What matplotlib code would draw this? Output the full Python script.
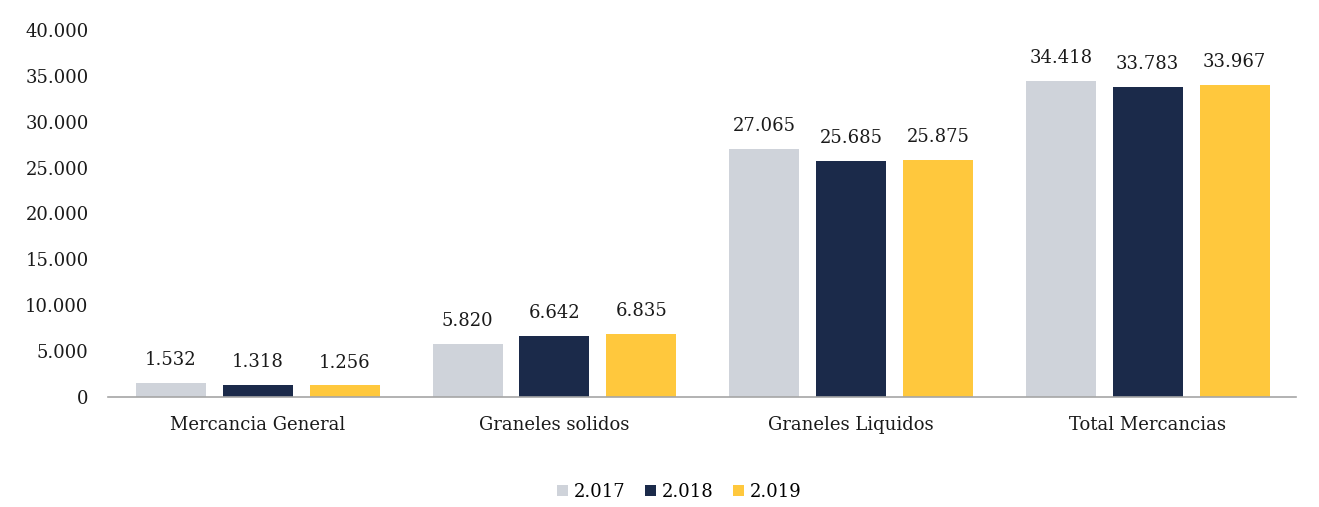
import matplotlib
matplotlib.use("Agg")
import matplotlib.pyplot as plt
import matplotlib.ticker as ticker
import numpy as np

# ── Data ───────────────────────────────────────────────────────
categories = ["Mercancia General", "Graneles solidos", "Graneles Liquidos", "Total Mercancias"]
years = ["2.017", "2.018", "2.019"]
v2017 = [1532, 5820, 27065, 34418]
v2018 = [1318, 6642, 25685, 33783]
v2019 = [1256, 6835, 25875, 33967]
colors = ["#CFD3DA", "#1B2A4A", "#FFC83D"]

plt.rcParams["font.family"] = ["DejaVu Serif"]
FS = 13
TXT = "#1a1a1a"


def fmt(v):
    return f"{v:,.0f}".replace(",", ".")


fig = plt.figure(figsize=(13.19, 5.07), dpi=100)
ax = fig.add_axes([0.0819, 0.217, 0.9007, 0.724])

x = np.arange(len(categories))
step = 0.293
width = 0.236
for i, (vals, lbl, c) in enumerate(zip([v2017, v2018, v2019], years, colors)):
    bars = ax.bar(x + (i - 1) * step, vals, width, color=c, label=lbl)
    for b, v in zip(bars, vals):
        ax.annotate(fmt(v), (b.get_x() + b.get_width() / 2, v),
                    xytext=(0, 10), textcoords="offset points",
                    ha="center", va="bottom", fontsize=FS, color=TXT)

ax.set_xlim(-0.505, 3.5)
ax.set_ylim(0, 40000)
ax.yaxis.set_major_locator(ticker.MultipleLocator(5000))
ax.yaxis.set_major_formatter(ticker.FuncFormatter(lambda v, _: fmt(v)))
ax.set_xticks(x)
ax.set_xticklabels(categories)
ax.tick_params(axis="both", length=0, labelsize=FS, colors=TXT)
ax.tick_params(axis="x", pad=14)
ax.tick_params(axis="y", pad=14)
for s in ("top", "right", "left"):
    ax.spines[s].set_visible(False)
ax.spines["bottom"].set_color("#A6A6A6")
ax.spines["bottom"].set_linewidth(1.2)

fig.legend(loc="center", bbox_to_anchor=(0.515, 0.03), ncol=3, frameon=False,
           fontsize=FS, handlelength=0.6, handleheight=0.6, handletextpad=0.3,
           columnspacing=1.1)

fig.savefig("out.png", dpi=100, facecolor="white")
